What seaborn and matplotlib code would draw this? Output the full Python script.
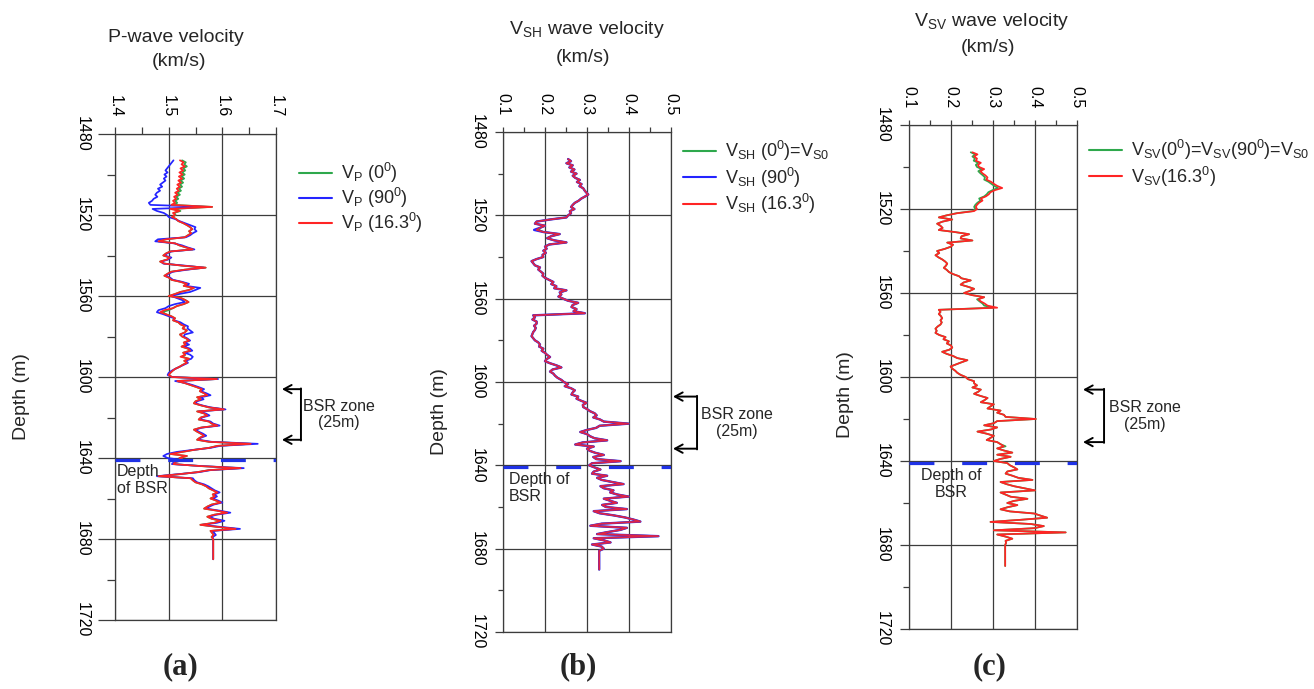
import numpy as np
import pandas as pd
import matplotlib
matplotlib.use("Agg")
import matplotlib.pyplot as plt
from matplotlib.ticker import MultipleLocator
import seaborn as sns

# Log depth samples (m), 1 m step
DEPTH = np.arange(1493, 1691)
BSR_DEPTH = 1641
BSR_ZONE_M = 25

# P-wave velocity (km/s) at incidence 0, 90 and 16.3 degrees
VP_0 = [
    1.525, 1.532, 1.529, 1.534, 1.527, 1.531, 1.525, 1.530, 1.524, 1.529,
    1.522, 1.527, 1.521, 1.525, 1.519, 1.523, 1.516, 1.521, 1.514, 1.518,
    1.512, 1.516, 1.509, 1.581, 1.507, 1.522, 1.510, 1.513, 1.507, 1.514,
    1.518, 1.527, 1.534, 1.540, 1.544, 1.538, 1.542, 1.536, 1.530, 1.495,
    1.481, 1.512, 1.520, 1.532, 1.545, 1.503, 1.495, 1.490, 1.502, 1.497,
    1.484, 1.492, 1.525, 1.569, 1.530, 1.505, 1.498, 1.492, 1.501, 1.505,
    1.522, 1.534, 1.528, 1.547, 1.538, 1.522, 1.512, 1.500, 1.523, 1.531,
    1.537, 1.528, 1.515, 1.508, 1.500, 1.488, 1.495, 1.505, 1.512, 1.508,
    1.518, 1.522, 1.530, 1.526, 1.534, 1.530, 1.521, 1.525, 1.533, 1.538,
    1.528, 1.532, 1.524, 1.536, 1.540, 1.527, 1.531, 1.525, 1.538, 1.529,
    1.534, 1.526, 1.520, 1.512, 1.507, 1.503, 1.500, 1.506, 1.590, 1.516,
    1.530, 1.541, 1.552, 1.562, 1.558, 1.566, 1.572, 1.553, 1.560, 1.550,
    1.547, 1.560, 1.575, 1.603, 1.553, 1.566, 1.572, 1.560, 1.556, 1.575,
    1.580, 1.591, 1.560, 1.547, 1.553, 1.560, 1.566, 1.558, 1.553, 1.575,
    1.653, 1.591, 1.575, 1.547, 1.525, 1.503, 1.534, 1.520, 1.528, 1.512,
    1.509, 1.560, 1.634, 1.575, 1.553, 1.520, 1.481, 1.541, 1.545, 1.550,
    1.562, 1.570, 1.575, 1.583, 1.591, 1.582, 1.586, 1.578, 1.588, 1.597,
    1.580, 1.572, 1.566, 1.590, 1.609, 1.585, 1.572, 1.580, 1.597, 1.585,
    1.559, 1.590, 1.625, 1.578, 1.581, 1.584, 1.580, 1.583, 1.583, 1.583,
    1.583, 1.583, 1.583, 1.583, 1.583, 1.583, 1.583, 1.583,
]
VP_90 = [
    1.509, 1.506, 1.503, 1.500, 1.497, 1.494, 1.498, 1.492, 1.496, 1.491,
    1.494, 1.489, 1.484, 1.488, 1.480, 1.484, 1.478, 1.475, 1.479, 1.472,
    1.469, 1.463, 1.466, 1.572, 1.470, 1.478, 1.491, 1.497, 1.500, 1.512,
    1.520, 1.530, 1.540, 1.550, 1.548, 1.552, 1.545, 1.540, 1.532, 1.480,
    1.475, 1.510, 1.525, 1.535, 1.548, 1.505, 1.497, 1.492, 1.505, 1.499,
    1.486, 1.490, 1.530, 1.566, 1.535, 1.508, 1.500, 1.494, 1.503, 1.508,
    1.525, 1.538, 1.532, 1.559, 1.550, 1.540, 1.520, 1.505, 1.515, 1.525,
    1.530, 1.512, 1.500, 1.494, 1.481, 1.478, 1.490, 1.500, 1.510, 1.510,
    1.522, 1.528, 1.536, 1.535, 1.540, 1.545, 1.530, 1.528, 1.535, 1.540,
    1.530, 1.538, 1.528, 1.540, 1.544, 1.530, 1.540, 1.545, 1.542, 1.532,
    1.536, 1.528, 1.520, 1.512, 1.505, 1.500, 1.498, 1.506, 1.592, 1.512,
    1.532, 1.545, 1.556, 1.566, 1.560, 1.570, 1.578, 1.560, 1.565, 1.553,
    1.550, 1.562, 1.578, 1.606, 1.556, 1.569, 1.576, 1.562, 1.560, 1.578,
    1.583, 1.595, 1.562, 1.550, 1.556, 1.564, 1.570, 1.560, 1.556, 1.580,
    1.666, 1.596, 1.578, 1.545, 1.515, 1.497, 1.490, 1.498, 1.525, 1.510,
    1.506, 1.563, 1.640, 1.578, 1.556, 1.516, 1.478, 1.545, 1.548, 1.553,
    1.566, 1.574, 1.580, 1.586, 1.595, 1.585, 1.590, 1.582, 1.592, 1.600,
    1.584, 1.576, 1.570, 1.595, 1.615, 1.589, 1.576, 1.585, 1.604, 1.590,
    1.562, 1.596, 1.633, 1.582, 1.585, 1.588, 1.582, 1.583, 1.583, 1.583,
    1.583, 1.583, 1.583, 1.583, 1.583, 1.583, 1.583, 1.583,
]
VP_163 = [
    1.521, 1.528, 1.524, 1.530, 1.522, 1.527, 1.520, 1.526, 1.519, 1.525,
    1.518, 1.523, 1.516, 1.521, 1.515, 1.519, 1.512, 1.517, 1.510, 1.514,
    1.508, 1.512, 1.505, 1.581, 1.503, 1.520, 1.508, 1.512, 1.506, 1.514,
    1.518, 1.527, 1.534, 1.540, 1.544, 1.538, 1.542, 1.536, 1.530, 1.495,
    1.481, 1.512, 1.520, 1.532, 1.545, 1.503, 1.495, 1.490, 1.502, 1.497,
    1.484, 1.492, 1.525, 1.569, 1.530, 1.505, 1.498, 1.492, 1.501, 1.505,
    1.522, 1.534, 1.528, 1.547, 1.538, 1.522, 1.512, 1.500, 1.523, 1.531,
    1.537, 1.528, 1.515, 1.508, 1.492, 1.484, 1.495, 1.505, 1.512, 1.508,
    1.518, 1.522, 1.530, 1.526, 1.534, 1.530, 1.521, 1.525, 1.533, 1.538,
    1.528, 1.532, 1.524, 1.536, 1.540, 1.527, 1.531, 1.522, 1.538, 1.529,
    1.534, 1.526, 1.520, 1.512, 1.507, 1.503, 1.500, 1.506, 1.590, 1.516,
    1.530, 1.541, 1.552, 1.562, 1.558, 1.566, 1.572, 1.553, 1.560, 1.550,
    1.547, 1.560, 1.575, 1.603, 1.553, 1.566, 1.572, 1.560, 1.556, 1.575,
    1.580, 1.591, 1.560, 1.547, 1.553, 1.560, 1.566, 1.558, 1.553, 1.575,
    1.653, 1.591, 1.575, 1.547, 1.525, 1.503, 1.534, 1.520, 1.528, 1.512,
    1.509, 1.560, 1.634, 1.575, 1.553, 1.520, 1.481, 1.541, 1.545, 1.550,
    1.562, 1.570, 1.575, 1.583, 1.591, 1.582, 1.586, 1.578, 1.588, 1.597,
    1.580, 1.572, 1.566, 1.590, 1.609, 1.585, 1.572, 1.580, 1.597, 1.585,
    1.559, 1.590, 1.625, 1.578, 1.581, 1.584, 1.580, 1.583, 1.583, 1.583,
    1.583, 1.583, 1.583, 1.583, 1.583, 1.583, 1.583, 1.583,
]

# SH-wave velocity (km/s)
VSH_0 = [
    0.255, 0.262, 0.251, 0.266, 0.258, 0.270, 0.262, 0.275, 0.266, 0.272,
    0.283, 0.276, 0.287, 0.282, 0.291, 0.294, 0.298, 0.303, 0.295, 0.286,
    0.280, 0.271, 0.266, 0.262, 0.270, 0.259, 0.262, 0.255, 0.251, 0.212,
    0.180, 0.176, 0.200, 0.188, 0.186, 0.196, 0.235, 0.215, 0.205, 0.222,
    0.251, 0.210, 0.200, 0.204, 0.196, 0.202, 0.194, 0.196, 0.180, 0.168,
    0.172, 0.176, 0.188, 0.184, 0.190, 0.196, 0.194, 0.200, 0.210, 0.220,
    0.215, 0.227, 0.222, 0.251, 0.235, 0.239, 0.232, 0.243, 0.255, 0.279,
    0.266, 0.263, 0.275, 0.268, 0.295, 0.172, 0.176, 0.170, 0.180, 0.180,
    0.174, 0.178, 0.176, 0.172, 0.170, 0.168, 0.172, 0.176, 0.184, 0.188,
    0.186, 0.196, 0.192, 0.200, 0.205, 0.212, 0.204, 0.200, 0.212, 0.227,
    0.239, 0.218, 0.212, 0.220, 0.224, 0.230, 0.239, 0.245, 0.255, 0.247,
    0.262, 0.271, 0.266, 0.263, 0.279, 0.275, 0.286, 0.299, 0.290, 0.291,
    0.300, 0.307, 0.318, 0.323, 0.315, 0.331, 0.340, 0.399, 0.330, 0.322,
    0.300, 0.284, 0.300, 0.307, 0.318, 0.348, 0.290, 0.272, 0.316, 0.300,
    0.306, 0.320, 0.340, 0.315, 0.322, 0.380, 0.312, 0.305, 0.318, 0.332,
    0.316, 0.312, 0.348, 0.324, 0.335, 0.360, 0.387, 0.332, 0.340, 0.363,
    0.355, 0.372, 0.399, 0.340, 0.355, 0.371, 0.336, 0.345, 0.395, 0.316,
    0.330, 0.363, 0.390, 0.410, 0.427, 0.335, 0.308, 0.395, 0.379, 0.350,
    0.324, 0.470, 0.316, 0.340, 0.356, 0.312, 0.335, 0.340, 0.329, 0.329,
    0.329, 0.329, 0.329, 0.329, 0.329, 0.329, 0.329, 0.329,
]
VSH_90 = [
    0.255, 0.262, 0.251, 0.266, 0.258, 0.270, 0.262, 0.275, 0.266, 0.272,
    0.283, 0.276, 0.287, 0.282, 0.291, 0.294, 0.298, 0.303, 0.295, 0.286,
    0.280, 0.271, 0.266, 0.262, 0.270, 0.259, 0.262, 0.255, 0.251, 0.212,
    0.180, 0.176, 0.200, 0.188, 0.174, 0.196, 0.235, 0.215, 0.205, 0.222,
    0.251, 0.210, 0.200, 0.204, 0.196, 0.202, 0.194, 0.196, 0.180, 0.168,
    0.172, 0.176, 0.188, 0.184, 0.190, 0.196, 0.194, 0.200, 0.210, 0.220,
    0.215, 0.227, 0.222, 0.251, 0.235, 0.239, 0.232, 0.243, 0.255, 0.279,
    0.266, 0.263, 0.275, 0.268, 0.295, 0.172, 0.176, 0.170, 0.180, 0.180,
    0.174, 0.178, 0.176, 0.172, 0.170, 0.168, 0.172, 0.176, 0.184, 0.188,
    0.186, 0.196, 0.192, 0.200, 0.205, 0.212, 0.204, 0.200, 0.212, 0.227,
    0.239, 0.218, 0.212, 0.220, 0.224, 0.230, 0.239, 0.245, 0.255, 0.247,
    0.262, 0.271, 0.266, 0.263, 0.279, 0.275, 0.286, 0.299, 0.290, 0.291,
    0.300, 0.307, 0.318, 0.323, 0.315, 0.331, 0.340, 0.399, 0.330, 0.322,
    0.300, 0.284, 0.300, 0.307, 0.318, 0.348, 0.290, 0.272, 0.316, 0.300,
    0.306, 0.320, 0.340, 0.315, 0.322, 0.380, 0.312, 0.305, 0.318, 0.332,
    0.316, 0.312, 0.348, 0.324, 0.335, 0.360, 0.387, 0.332, 0.340, 0.363,
    0.355, 0.372, 0.399, 0.340, 0.355, 0.371, 0.336, 0.345, 0.395, 0.316,
    0.330, 0.363, 0.390, 0.410, 0.427, 0.335, 0.308, 0.395, 0.379, 0.350,
    0.324, 0.470, 0.316, 0.340, 0.356, 0.312, 0.335, 0.340, 0.329, 0.329,
    0.329, 0.329, 0.329, 0.329, 0.329, 0.329, 0.329, 0.329,
]
VSH_163 = [
    0.255, 0.262, 0.251, 0.266, 0.258, 0.270, 0.262, 0.275, 0.266, 0.272,
    0.283, 0.276, 0.287, 0.282, 0.291, 0.294, 0.298, 0.303, 0.295, 0.286,
    0.280, 0.271, 0.266, 0.262, 0.270, 0.259, 0.262, 0.255, 0.251, 0.212,
    0.180, 0.176, 0.200, 0.188, 0.180, 0.196, 0.235, 0.215, 0.205, 0.222,
    0.251, 0.210, 0.200, 0.204, 0.196, 0.202, 0.194, 0.196, 0.180, 0.168,
    0.172, 0.176, 0.188, 0.184, 0.190, 0.196, 0.194, 0.200, 0.210, 0.220,
    0.215, 0.227, 0.222, 0.251, 0.235, 0.239, 0.232, 0.243, 0.255, 0.279,
    0.266, 0.263, 0.275, 0.268, 0.295, 0.172, 0.176, 0.170, 0.180, 0.180,
    0.174, 0.178, 0.176, 0.172, 0.170, 0.168, 0.172, 0.176, 0.184, 0.188,
    0.186, 0.196, 0.192, 0.200, 0.205, 0.212, 0.204, 0.200, 0.212, 0.227,
    0.239, 0.218, 0.212, 0.220, 0.224, 0.230, 0.239, 0.245, 0.255, 0.247,
    0.262, 0.271, 0.266, 0.263, 0.279, 0.275, 0.286, 0.299, 0.290, 0.291,
    0.300, 0.307, 0.318, 0.323, 0.315, 0.331, 0.340, 0.399, 0.330, 0.322,
    0.300, 0.284, 0.300, 0.307, 0.318, 0.348, 0.290, 0.272, 0.316, 0.300,
    0.306, 0.320, 0.340, 0.315, 0.322, 0.380, 0.312, 0.305, 0.318, 0.332,
    0.316, 0.312, 0.348, 0.324, 0.335, 0.360, 0.387, 0.332, 0.340, 0.363,
    0.355, 0.372, 0.399, 0.340, 0.355, 0.371, 0.336, 0.345, 0.395, 0.316,
    0.330, 0.363, 0.390, 0.410, 0.427, 0.335, 0.308, 0.395, 0.379, 0.350,
    0.324, 0.470, 0.316, 0.340, 0.356, 0.312, 0.335, 0.340, 0.329, 0.329,
    0.329, 0.329, 0.329, 0.329, 0.329, 0.329, 0.329, 0.329,
]

# SV-wave velocity (km/s)
VSV_0 = [
    0.247, 0.258, 0.251, 0.257, 0.254, 0.265, 0.259, 0.262, 0.273, 0.265,
    0.270, 0.276, 0.281, 0.279, 0.289, 0.296, 0.303, 0.312, 0.299, 0.289,
    0.285, 0.279, 0.267, 0.270, 0.263, 0.258, 0.255, 0.258, 0.252, 0.213,
    0.190, 0.171, 0.203, 0.180, 0.167, 0.175, 0.180, 0.171, 0.210, 0.243,
    0.225, 0.223, 0.251, 0.191, 0.205, 0.199, 0.185, 0.167, 0.172, 0.163,
    0.170, 0.179, 0.186, 0.191, 0.188, 0.183, 0.190, 0.195, 0.205, 0.219,
    0.225, 0.247, 0.230, 0.223, 0.240, 0.255, 0.245, 0.231, 0.250, 0.279,
    0.262, 0.268, 0.275, 0.279, 0.300, 0.171, 0.175, 0.171, 0.176, 0.179,
    0.175, 0.178, 0.175, 0.168, 0.163, 0.166, 0.163, 0.172, 0.187, 0.182,
    0.195, 0.190, 0.200, 0.203, 0.196, 0.179, 0.190, 0.205, 0.215, 0.239,
    0.225, 0.212, 0.199, 0.203, 0.210, 0.215, 0.223, 0.235, 0.240, 0.255,
    0.255, 0.262, 0.251, 0.271, 0.265, 0.255, 0.270, 0.287, 0.280, 0.271,
    0.302, 0.294, 0.287, 0.318, 0.310, 0.326, 0.330, 0.402, 0.310, 0.302,
    0.279, 0.310, 0.295, 0.263, 0.285, 0.302, 0.294, 0.285, 0.310, 0.318,
    0.330, 0.310, 0.326, 0.346, 0.310, 0.342, 0.318, 0.302, 0.334, 0.340,
    0.350, 0.358, 0.334, 0.330, 0.346, 0.360, 0.394, 0.318, 0.332, 0.350,
    0.375, 0.400, 0.318, 0.330, 0.342, 0.382, 0.350, 0.334, 0.358, 0.335,
    0.318, 0.340, 0.398, 0.413, 0.429, 0.366, 0.294, 0.390, 0.421, 0.398,
    0.302, 0.473, 0.310, 0.330, 0.346, 0.330, 0.331, 0.329, 0.329, 0.329,
    0.329, 0.329, 0.329, 0.329, 0.329, 0.329, 0.329, 0.329,
]
VSV_163 = [
    0.251, 0.263, 0.255, 0.262, 0.259, 0.271, 0.264, 0.267, 0.279, 0.270,
    0.275, 0.282, 0.287, 0.284, 0.295, 0.302, 0.310, 0.322, 0.305, 0.294,
    0.290, 0.283, 0.271, 0.275, 0.267, 0.262, 0.259, 0.262, 0.255, 0.215,
    0.190, 0.171, 0.203, 0.180, 0.167, 0.175, 0.180, 0.171, 0.210, 0.243,
    0.225, 0.223, 0.251, 0.191, 0.205, 0.199, 0.185, 0.167, 0.172, 0.163,
    0.170, 0.179, 0.186, 0.191, 0.188, 0.183, 0.190, 0.195, 0.205, 0.219,
    0.225, 0.247, 0.230, 0.223, 0.240, 0.255, 0.245, 0.231, 0.250, 0.279,
    0.265, 0.271, 0.280, 0.287, 0.310, 0.171, 0.175, 0.171, 0.176, 0.179,
    0.175, 0.178, 0.175, 0.168, 0.163, 0.166, 0.163, 0.172, 0.187, 0.182,
    0.195, 0.190, 0.200, 0.203, 0.196, 0.179, 0.190, 0.205, 0.215, 0.239,
    0.225, 0.212, 0.199, 0.203, 0.210, 0.215, 0.223, 0.235, 0.240, 0.255,
    0.255, 0.262, 0.251, 0.271, 0.265, 0.255, 0.270, 0.287, 0.280, 0.271,
    0.302, 0.294, 0.287, 0.318, 0.310, 0.326, 0.330, 0.402, 0.310, 0.302,
    0.279, 0.310, 0.295, 0.263, 0.285, 0.302, 0.294, 0.285, 0.310, 0.318,
    0.326, 0.310, 0.326, 0.346, 0.310, 0.342, 0.318, 0.302, 0.334, 0.340,
    0.350, 0.358, 0.334, 0.330, 0.346, 0.360, 0.394, 0.318, 0.332, 0.350,
    0.375, 0.400, 0.318, 0.330, 0.342, 0.382, 0.350, 0.334, 0.358, 0.335,
    0.318, 0.340, 0.398, 0.413, 0.429, 0.366, 0.294, 0.390, 0.421, 0.398,
    0.302, 0.473, 0.310, 0.330, 0.346, 0.330, 0.331, 0.329, 0.329, 0.329,
    0.329, 0.329, 0.329, 0.329, 0.329, 0.329, 0.329, 0.329,
]

for _name, _vals in [("VP_0", VP_0), ("VP_90", VP_90), ("VP_163", VP_163),
                     ("VSH_0", VSH_0), ("VSH_90", VSH_90), ("VSH_163", VSH_163),
                     ("VSV_0", VSV_0), ("VSV_163", VSV_163)]:
    if len(_vals) != len(DEPTH):
        raise ValueError(f"{_name}: {len(_vals)} values for {len(DEPTH)} depths")

GREEN, BLUE, RED = "#2ea84c", "#2424ff", "#ff2424"
BSR_BLUE = "#1f32e6"
GRID = "#3c3c3c"

sns.set_style("white")
plt.rcParams["font.family"] = ["Liberation Sans", "DejaVu Sans"]
plt.rcParams["mathtext.default"] = "regular"

W, H = 1314, 689
fig = plt.figure(figsize=(W / 100, H / 100), dpi=100)


def box(l, t, r, b):
    return [l / W, 1 - b / H, (r - l) / W, (b - t) / H]


def fx(x):
    return x / W


def fy(y):
    return 1 - y / H


PANELS = [
    dict(rect=box(115, 134, 276, 620), xlim=(1.4, 1.7),
         series=[(VP_0, GREEN, 1.25, 1.0, r"V$_{P}$ (0$^{0}$)"),
                 (VP_90, BLUE, 1.25, 1.0, r"V$_{P}$ (90$^{0}$)"),
                 (VP_163, RED, 1.25, 1.0, r"V$_{P}$ (16.3$^{0}$)")],
         title=("P-wave velocity", (176, 37), (179, 62)),
         ylab=(22, 397), letter=("(a)", 180),
         ymaj=12.0, ymin=5.8, xtick=5.0, ypad=6.5, xpad=7.0,
         legend=(299, 161), leg_sp=0.06,
         arrow=(1.037, 1.155, 1.391, 1606),
         bsr_text=("Depth\nof BSR", 0.012, "left")),
    dict(rect=box(503, 132, 671, 632), xlim=(0.1, 0.5),
         series=[(VSH_0, GREEN, 1.25, 1.0, r"V$_{SH}$ (0$^{0}$)=V$_{S0}$"),
                 (VSH_90, BLUE, 1.7, 1.0, r"V$_{SH}$ (90$^{0}$)"),
                 (VSH_163, RED, 1.25, 0.85, r"V$_{SH}$ (16.3$^{0}$)")],
         title=(r"V$_{SH}$ wave velocity", (587, 29), (583, 57)),
         ylab=(440, 412), letter=("(b)", 578),
         ymaj=5.8, ymin=3.6, xtick=3.6, ypad=7.2, xpad=8.6,
         legend=(683, 139), leg_sp=0.14,
         arrow=(1.012, 1.155, 1.393, 1607),
         bsr_text=("Depth of\nBSR", 0.036, "left")),
    dict(rect=box(909, 125, 1077, 629), xlim=(0.1, 0.5),
         series=[(VSV_0, GREEN, 1.25, 1.0, r"V$_{SV}$(0$^{0}$)=V$_{SV}$(90$^{0}$)=V$_{S0}$"),
                 (VSV_163, RED, 1.25, 1.0, r"V$_{SV}$(16.3$^{0}$)")],
         title=(r"V$_{SV}$ wave velocity", (992, 21), (988, 48)),
         ylab=(845, 395), letter=("(c)", 990),
         ymaj=6.5, ymin=4.3, xtick=3.6, ypad=7.2, xpad=8.6,
         legend=(1089, 138), leg_sp=0.14,
         arrow=(1.036, 1.161, 1.405, 1606),
         bsr_text=("Depth of\nBSR", 0.25, "center")),
]

for p in PANELS:
    ax = fig.add_axes(p["rect"])
    for vals, color, lw, alpha, label in p["series"]:
        df = pd.DataFrame({"depth": DEPTH, "velocity": vals})
        sns.lineplot(data=df, x="velocity", y="depth", orient="y",
                     estimator=None, sort=True, color=color, lw=lw,
                     alpha=alpha, label=label, ax=ax)
    handles, labels = ax.get_legend_handles_labels()

    ax.set_xlim(*p["xlim"])
    ax.set_ylim(1720, 1480)
    ax.set_xlabel("")
    ax.set_ylabel("")
    ax.xaxis.tick_top()
    ax.xaxis.set_major_locator(MultipleLocator(0.1))
    ax.xaxis.set_minor_locator(MultipleLocator(0.05))
    ax.yaxis.set_major_locator(MultipleLocator(40))
    ax.yaxis.set_minor_locator(MultipleLocator(20))
    ax.grid(True, which="major", color=GRID, lw=0.9)
    ax.set_axisbelow(True)
    for side in ("top", "left", "right", "bottom"):
        ax.spines[side].set_color(GRID)
        ax.spines[side].set_linewidth(0.9)

    ax.tick_params(axis="both", which="both", color=GRID, width=0.9,
                   direction="out", labelsize=11.5, labelcolor="black")
    ax.tick_params(axis="y", which="major", length=p["ymaj"], pad=p["ypad"],
                   left=True, right=False, labelrotation=270)
    ax.tick_params(axis="y", which="minor", length=p["ymin"], left=True, right=False)
    ax.tick_params(axis="x", which="both", length=p["xtick"], top=True, bottom=False,
                   labeltop=True, labelbottom=False)
    ax.tick_params(axis="x", which="major", pad=p["xpad"], labelrotation=270)
    for t in ax.yaxis.get_major_ticks():
        t.label1.set_va("center")

    # depth of the bottom-simulating reflector
    ax.axhline(BSR_DEPTH, color=BSR_BLUE, lw=2.3, linestyle=(0, (7.8, 8.7)),
               dash_capstyle="butt", zorder=5)
    txt, tx, tha = p["bsr_text"]
    ax.text(tx, 1651, txt, transform=ax.get_yaxis_transform(), ha=tha,
            va="center", fontsize=11.5, linespacing=1.15, zorder=6)

    # BSR zone bracket
    head_x, bar_x, text_x, z_top = p["arrow"]
    z_bot = z_top + BSR_ZONE_M
    tr = ax.get_yaxis_transform()
    for yv in (z_top, z_bot):
        ax.annotate("", xy=(head_x, yv), xytext=(bar_x, yv), xycoords=tr,
                    textcoords=tr, annotation_clip=False,
                    arrowprops=dict(arrowstyle="->,head_length=0.55,head_width=0.3",
                                    lw=1.4, color="black", shrinkA=0, shrinkB=0))
    ax.annotate("", xy=(bar_x, z_top - 0.35), xytext=(bar_x, z_bot + 0.35),
                xycoords=tr, textcoords=tr, annotation_clip=False,
                arrowprops=dict(arrowstyle="-", lw=1.4, color="black",
                                shrinkA=0, shrinkB=0))
    ax.text(text_x, (z_top + z_bot) / 2, "BSR zone\n(25m)", transform=tr,
            ha="center", va="center", multialignment="center",
            fontsize=11.5, linespacing=1.15, clip_on=False)

    leg = ax.legend(handles, labels, loc="upper left",
                    bbox_to_anchor=(fx(p["legend"][0]), fy(p["legend"][1])),
                    bbox_transform=fig.transFigure, frameon=False, fontsize=13,
                    handlelength=1.85, handletextpad=0.45, borderpad=0,
                    borderaxespad=0, labelspacing=p["leg_sp"])
    for lh in leg.get_lines():
        lh.set_linewidth(1.5)
        lh.set_alpha(1.0)

    title, (t1x, t1y), (t2x, t2y) = p["title"]
    fig.text(fx(t1x), fy(t1y), title, ha="center", va="center", fontsize=14)
    fig.text(fx(t2x), fy(t2y), "(km/s)", ha="center", va="center", fontsize=14)
    fig.text(fx(p["ylab"][0]), fy(p["ylab"][1]), "Depth (m)", rotation=90,
             ha="center", va="center", fontsize=14)
    fig.text(fx(p["letter"][1]), fy(667), p["letter"][0], ha="center",
             va="center", fontsize=22, fontweight="bold",
             family=["Liberation Serif", "DejaVu Serif"])

fig.savefig("out.png", dpi=100, facecolor="white")
